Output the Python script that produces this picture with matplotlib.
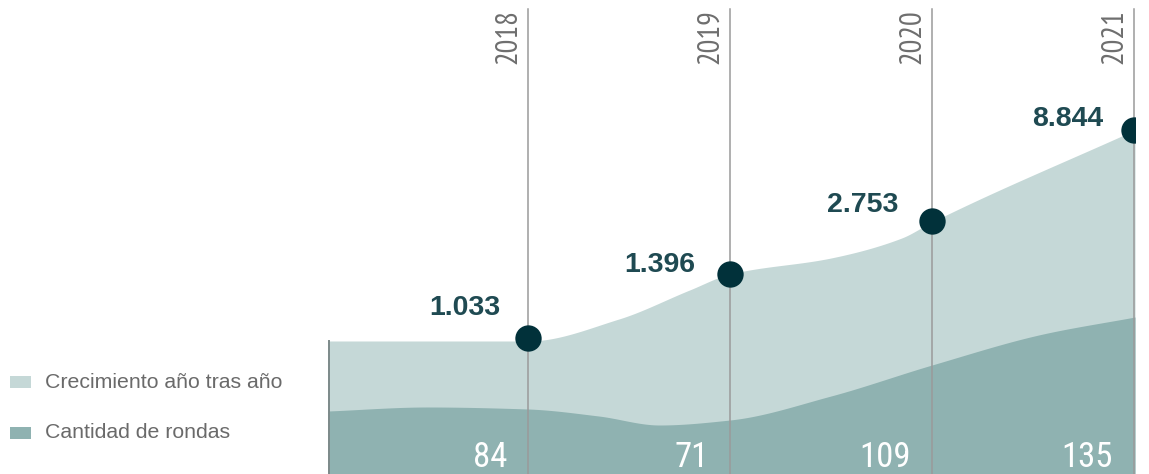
import numpy as np
import matplotlib
matplotlib.use("Agg")
import matplotlib.pyplot as plt
from matplotlib.patches import Rectangle
from matplotlib import font_manager

# ---------------- data ----------------
years = ["2018", "2019", "2020", "2021"]
crecimiento = [1033, 1396, 2753, 8844]          # growth labels (dots)
rondas = [84, 71, 109, 135]                     # number of rounds (bottom labels)
legend_labels = ["Crecimiento año tras año", "Cantidad de rondas"]

# visual levels of the decorative areas (chart units)
nivel_puntos = [136, 200, 253, 344]                                 # dot heights
forma_clara_x = [-0.99, 0.0, 0.45, 0.80, 1.0, 1.50, 1.85, 2.0, 3.005]
forma_clara_y = [133, 133, 155, 184, 200, 216, 236, 252, 344]
forma_oscura_x = [-0.99, -0.50, 0.0, 0.35, 0.65, 1.0, 1.50, 2.0, 2.55, 3.005]
forma_oscura_y = [63, 67, 65, 58, 49, 54, 78, 109, 140, 157]

# ---------------- style ----------------
C_LIGHT = "#c5d8d7"
C_DARK = "#8fb2b1"
C_DOT = "#01313a"
C_LABEL = "#1f4a52"
C_YEAR = "#6e6e6e"
C_LINE = "#9a9a9a"
C_LEG = "#6a6a6a"

names = {f.name for f in font_manager.fontManager.ttflist}


def pick(cands, default="DejaVu Sans Condensed"):
    for c in cands:
        if c in names:
            return c
    return default


NARROW = pick(["Liberation Sans Narrow", "Arial Narrow", "PT Sans Narrow", "Archivo Narrow"])
COND = pick(["Roboto Condensed", "Archivo Narrow", "PT Sans Narrow"])
SANS = "Liberation Sans"


def pchip(xk, yk, xs):
    xk = np.asarray(xk, float)
    yk = np.asarray(yk, float)
    h = np.diff(xk)
    d = np.diff(yk) / h
    n = len(xk)
    m = np.zeros(n)
    for k in range(1, n - 1):
        if d[k - 1] * d[k] <= 0:
            m[k] = 0.0
        else:
            w1 = 2 * h[k] + h[k - 1]
            w2 = h[k] + 2 * h[k - 1]
            m[k] = (w1 + w2) / (w1 / d[k - 1] + w2 / d[k])
    m[0] = d[0]
    m[-1] = d[-1]
    idx = np.clip(np.searchsorted(xk, xs) - 1, 0, n - 2)
    t = (xs - xk[idx]) / h[idx]
    h00 = 2 * t**3 - 3 * t**2 + 1
    h10 = t**3 - 2 * t**2 + t
    h01 = -2 * t**3 + 3 * t**2
    h11 = t**3 - t**2
    return (h00 * yk[idx] + h10 * h[idx] * m[idx]
            + h01 * yk[idx + 1] + h11 * h[idx] * m[idx + 1])


W, H = 1149, 474
fig = plt.figure(figsize=(W / 100, H / 100), dpi=100)
ax = fig.add_axes([328 / W, 0, (1135 - 328) / W, 1])
x0, x1 = -0.99, 3.005
ax.set_xlim(x0, x1)
ax.set_ylim(0, H)
ax.axis("off")

xs = np.linspace(x0, x1, 800)
top_light = pchip(forma_clara_x, forma_clara_y, xs)
top_dark = pchip(forma_oscura_x, forma_oscura_y, xs)
ax.fill_between(xs, 0, top_light, color=C_LIGHT, lw=0, zorder=1)
ax.fill_between(xs, 0, top_dark, color=C_DARK, lw=0, zorder=2)

xpos = np.arange(len(years))
# vertical year lines
for x in xpos:
    ax.plot([x, x], [0, H - 9], color=C_LINE, lw=1.1, zorder=3)
ax.plot([x0 + 0.004, x0 + 0.004], [0, forma_clara_y[0]], color="#7d8a8a", lw=1.4, zorder=3)

# dots
ax.scatter(xpos, nivel_puntos, s=360, color=C_DOT, zorder=5, linewidths=0)

# growth labels
offsets = [(-28, 30), (-35, 9), (-34, 16), (-31, 11)]
for x, yv, v, off in zip(xpos, nivel_puntos, crecimiento, offsets):
    txt = f"{v:,}".replace(",", ".")
    ax.annotate(txt, xy=(x, yv), xytext=off, textcoords="offset pixels",
                ha="right", va="center", fontsize=20.5, fontweight="bold",
                color=C_LABEL, family=SANS, zorder=6)

# year labels (rotated)
for x, yr in zip(xpos, years):
    ax.annotate(yr, xy=(x, 1), xycoords=("data", "axes fraction"),
                xytext=(-6, -9), textcoords="offset pixels",
                ha="right", va="top", rotation=90, fontsize=22,
                color=C_YEAR, family=NARROW, zorder=6)

# rounds labels (bottom)
for x, r in zip(xpos, rondas):
    ax.annotate(str(r), xy=(x, 7), xytext=(-21, 0), textcoords="offset pixels",
                ha="right", va="baseline", fontsize=25,
                color="white", family=COND, zorder=6)

# legend (manual)
leg_y = [382, 433]
for yy, col, lab in zip(leg_y, [C_LIGHT, C_DARK], legend_labels):
    fig.add_artist(Rectangle((10 / W, 1 - (yy + 6) / H), 21 / W, 12 / H,
                             transform=fig.transFigure, color=col, lw=0))
    fig.text(45 / W, 1 - yy / H, lab, ha="left", va="center",
             fontsize=15.3, color=C_LEG, family=SANS)

fig.savefig("out.png", dpi=100)
